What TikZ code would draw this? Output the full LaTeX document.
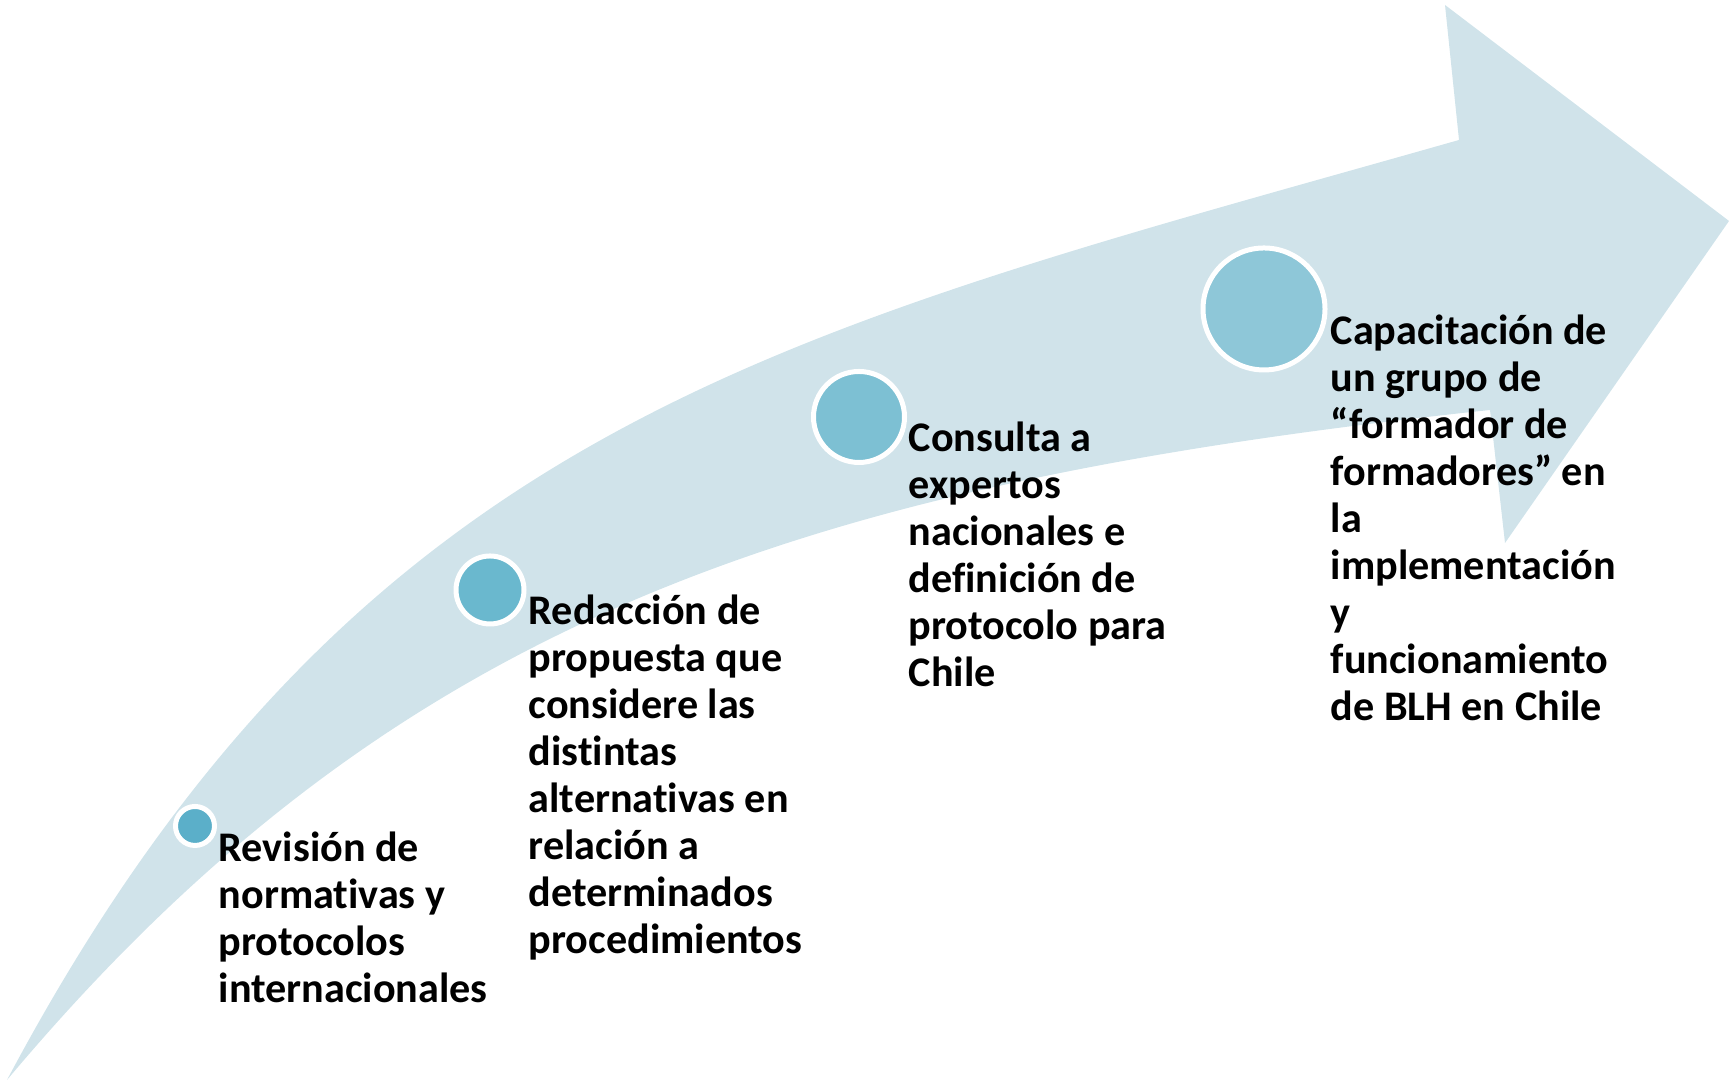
\documentclass[tikz,border=0pt]{standalone}
\usepackage{fontspec}
\setmainfont{Carlito}[Ligatures=NoCommon]
\usepackage{tikz}
\usetikzlibrary{positioning}
\definecolor{bandblue}{RGB}{208, 227, 234}
\definecolor{beadA}{RGB}{91, 175, 201}
\definecolor{beadB}{RGB}{106, 184, 206}
\definecolor{beadC}{RGB}{125, 192, 211}
\definecolor{beadD}{RGB}{142, 199, 216}

\begin{document}
\begin{tikzpicture}[
    bead/.style={circle, draw=white, line width=0.05cm, inner sep=0pt},
    stage/.style={anchor=base west, inner sep=0pt, align=left, font=\fontsize{12}{13.4}\selectfont\bfseries},
]
    \useasboundingbox (0,0) rectangle (17.29,10.81);

    % Curved arrow
    \fill[bandblue] (0.07,0.01) .. controls (3.59,6.63) and (7.87,7.50) .. (14.59,9.41)
        -- (14.45,10.76) -- (17.29,8.60) -- (15.05,5.38) -- (14.90,6.71)
        .. controls (7.98,5.97) and (3.93,4.61) .. cycle;

    % Stages (anchored at the baseline of the last line)
    \node[bead, fill=beadA, minimum size=0.39cm] (revdot) at (1.95,2.55) {};
    \node[bead, fill=beadB, minimum size=0.68cm] (reddot) at (4.90,4.91) {};
    \node[bead, fill=beadC, minimum size=0.91cm] (condot) at (8.59,6.64) {};
    \node[bead, fill=beadD, minimum size=1.22cm] (capdot) at (12.64,7.72) {};

    \node[stage] (revision) at (2.18,0.78) {Revisión de\\normativas y\\protocolos\\internacionales};
    \node[stage] (redaccion) at (5.28,1.27) {Redacción de\\propuesta que\\considere las\\distintas\\alternativas en\\relación a\\determinados\\procedimientos};
    \node[stage] (consulta) at (9.08,3.94) {Consulta a\\expertos\\nacionales e\\definición de\\protocolo para\\Chile};
    \node[stage] (capacitacion) at (13.30,3.60) {Capacitación de\\un grupo de\\“formador de\\formadores” en\\la\\implementación\\y\\funcionamiento\\de BLH en Chile};
\end{tikzpicture}
\end{document}
